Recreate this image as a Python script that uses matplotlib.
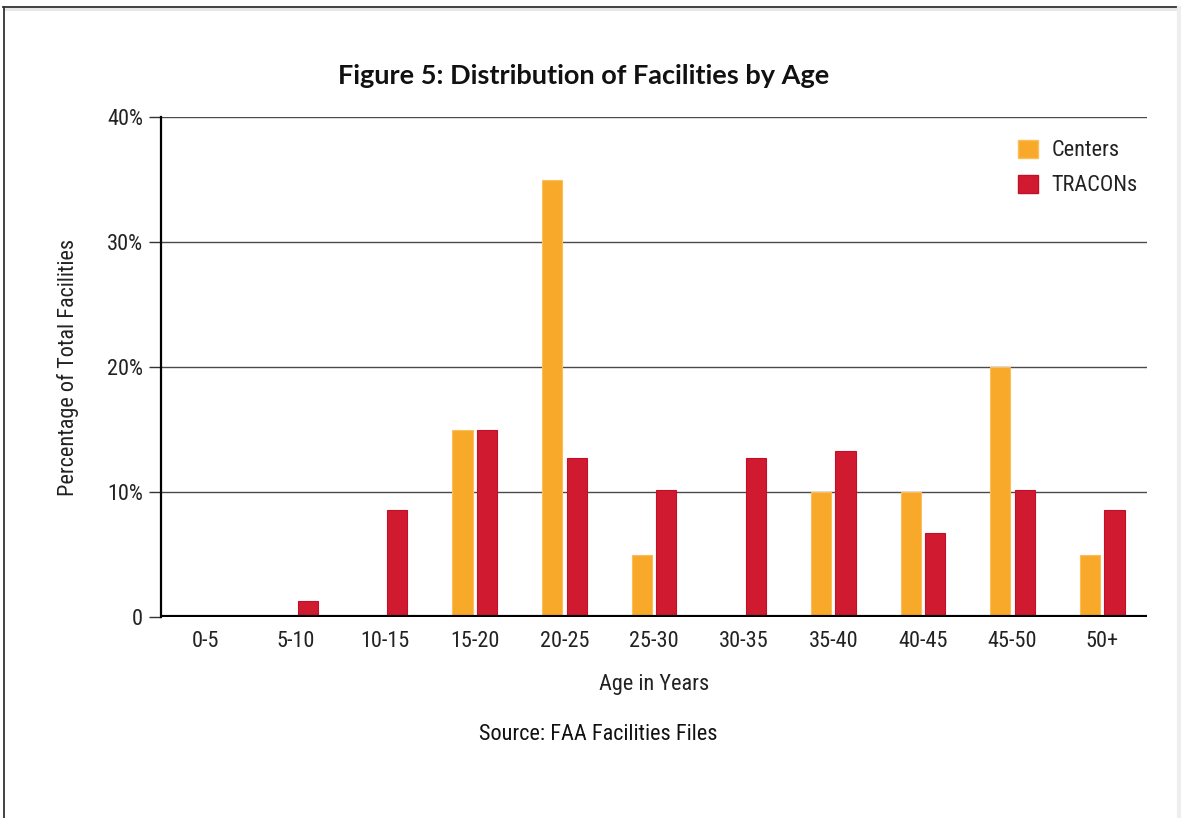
import matplotlib
matplotlib.use("Agg")
import matplotlib.pyplot as plt
from matplotlib.lines import Line2D
from matplotlib.patches import Patch
from matplotlib import font_manager
import numpy as np

# Data: share of facilities in each age band (percent)
age_bands = ["0-5", "5-10", "10-15", "15-20", "20-25", "25-30",
             "30-35", "35-40", "40-45", "45-50", "50+"]
centers = [0, 0, 0, 15, 35, 5, 0, 10, 10, 20, 5]
tracons = [0, 1.3, 8.6, 15, 12.7, 10.2, 12.7, 13.3, 6.7, 10.2, 8.6]
y_ticks = [0, 10, 20, 30, 40]
y_tick_labels = ["0", "10%", "20%", "30%", "40%"]

# pick a narrow sans for the body text
fonts = font_manager.fontManager.ttflist
names = {f.name for f in fonts}
stretch = "normal"
if "Roboto Condensed" in names:
    body = "Roboto Condensed"
elif "Liberation Sans Narrow" in names:
    body = "Liberation Sans Narrow"
elif any(f.name == "DejaVu Sans" and f.stretch in ("condensed", "semi-condensed")
         for f in fonts):
    body = "DejaVu Sans"
    stretch = "condensed"
else:
    body = "Roboto" if "Roboto" in names else "DejaVu Sans"
title_font = "Lato" if "Lato" in names else "DejaVu Sans"

plt.rcParams["font.family"] = [body, "DejaVu Sans"]
plt.rcParams["font.stretch"] = stretch

CENTER_COLOR = "#F8A92A"
TRACON_COLOR = "#D01A30"
TEXT = "#222222"
FS = 16

fig = plt.figure(figsize=(11.81, 8.18), dpi=100)
W, H = 1181, 818

def fx(px):
    return px / W

def fy(py):
    return 1 - py / H

ax = fig.add_axes([fx(161), fy(617), fx(1147) - fx(161), fy(117) - fy(617)])

x = np.arange(len(age_bands))
bw = 0.225
off = 0.137
ax.bar(x - off, centers, width=bw, color=CENTER_COLOR, edgecolor="#FBBE5A",
       linewidth=0.8, zorder=3)
ax.bar(x + off, tracons, width=bw, color=TRACON_COLOR, edgecolor="#C21028",
       linewidth=0.8, zorder=3)

ax.set_xlim(-0.5, len(age_bands) - 0.5)
ax.set_ylim(0, 40)

# horizontal reference lines
for yv in y_ticks[1:]:
    ax.axhline(yv, color="#4a4a4a", linewidth=1.0, zorder=2)
ax.axhline(0, color="black", linewidth=3.0, zorder=4)

for s in ["top", "right", "bottom"]:
    ax.spines[s].set_visible(False)
ax.spines["left"].set_linewidth(1.6)
ax.spines["left"].set_color("black")

ax.set_yticks(y_ticks)
ax.set_yticklabels(y_tick_labels, fontsize=FS, color=TEXT)
ax.tick_params(axis="y", length=9, width=1.0, color="#333333", pad=4)
ax.set_xticks(x)
ax.set_xticklabels(age_bands, fontsize=FS, color=TEXT)
ax.tick_params(axis="x", length=0, pad=10)

ax.set_xlabel("Age in Years", fontsize=FS, color=TEXT, labelpad=16)
ax.set_ylabel("Percentage of Total Facilities", fontsize=FS,
              color=TEXT, labelpad=20)

handles = [Patch(facecolor=CENTER_COLOR, edgecolor="#FBBE5A"),
           Patch(facecolor=TRACON_COLOR, edgecolor="#C21028")]
ax.legend(handles, ["Centers", "TRACONs"], loc="upper left",
          bbox_to_anchor=((1018 - 161) / 986, 0.955), frameon=False,
          fontsize=FS, borderpad=0, borderaxespad=0,
          handlelength=0.9, handleheight=0.88, handletextpad=0.6,
          labelspacing=0.6, labelcolor=TEXT)

fig.text(fx(584), fy(76), "Figure 5: Distribution of Facilities by Age",
         ha="center", va="center", fontsize=19.5, fontweight="bold",
         family=[title_font, "DejaVu Sans"], color="#111111")
fig.text(fx(598), fy(734), "Source: FAA Facilities Files",
         ha="center", va="center", fontsize=FS, color="#111111")

# page frame
fig.add_artist(Line2D([fx(3), 1], [fy(7), fy(7)], color="#333333",
                      linewidth=1.3, transform=fig.transFigure))
fig.add_artist(Line2D([fx(4), 1], [fy(9), fy(9)], color="#e6e6e6",
                      linewidth=2.0, transform=fig.transFigure))
fig.add_artist(Line2D([fx(3.5), fx(3.5)], [fy(7), 0], color="#333333",
                      linewidth=1.3, transform=fig.transFigure))
fig.add_artist(Line2D([fx(1179), fx(1179)], [fy(8), 0], color="#eeeeee",
                      linewidth=3.0, transform=fig.transFigure))

fig.savefig("out.png", dpi=100)
